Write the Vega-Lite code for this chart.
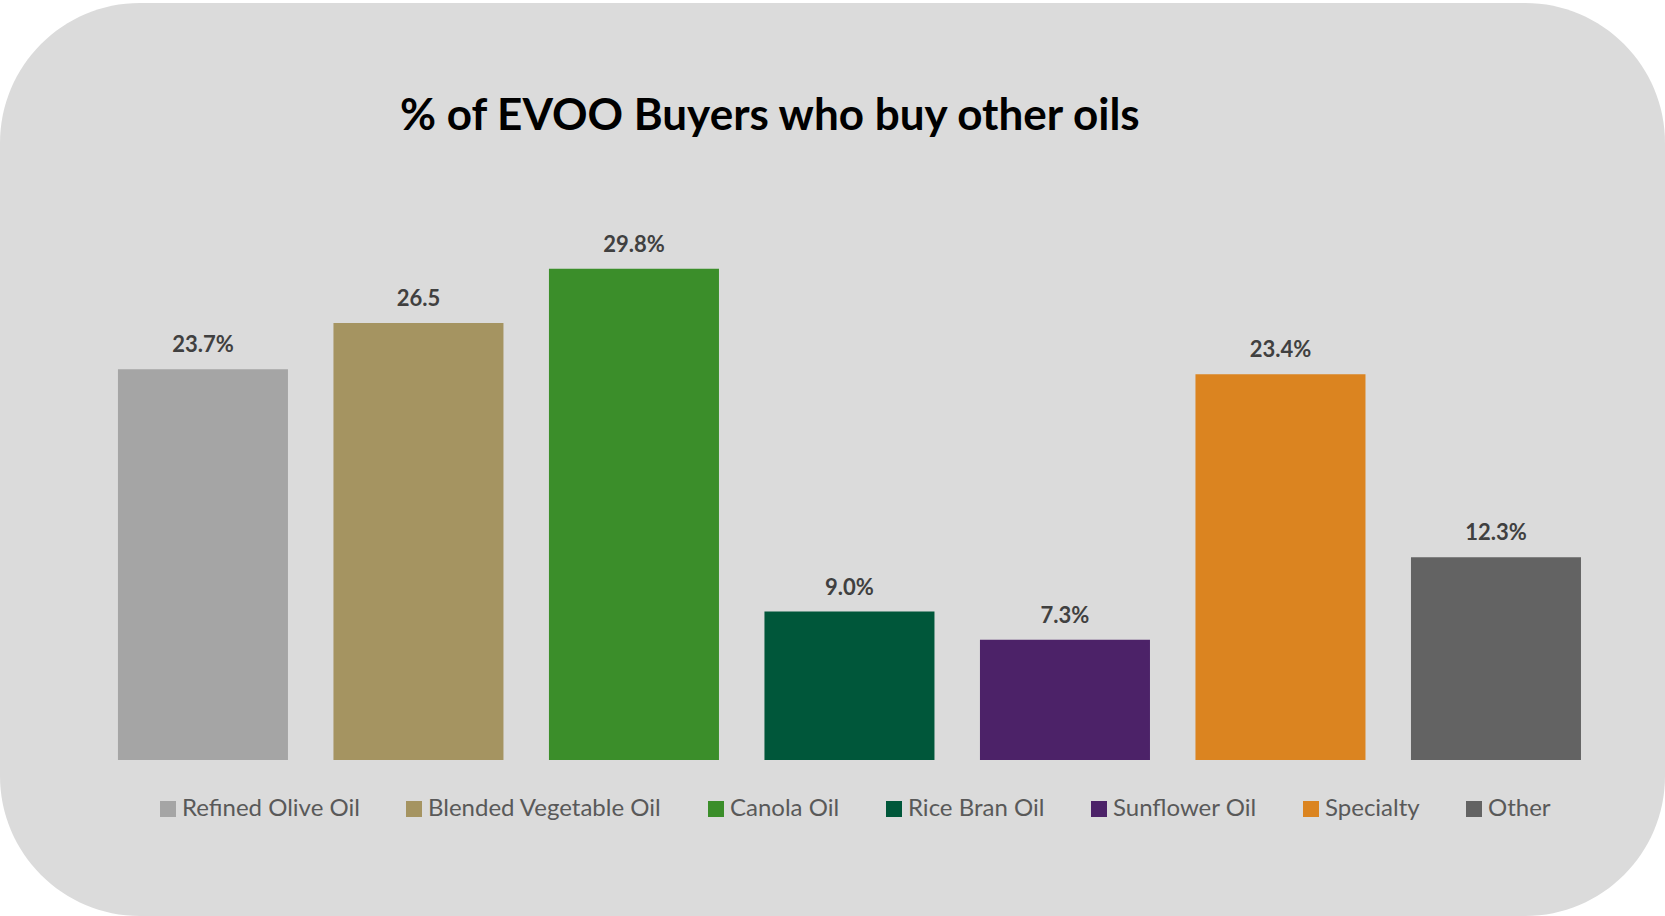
{
  "$schema": "https://vega.github.io/schema/vega-lite/v6.json",
  "width": 1665,
  "height": 913,
  "autosize": {"type": "none"},
  "padding": {"top": 3, "left": 0, "right": 0, "bottom": 0},
  "background": "#ffffff",
  "config": {
    "view": {"fill": "#dbdbdb", "stroke": null, "cornerRadius": 140},
    "font": "Lato"
  },
  "title": {
    "text": "% of EVOO Buyers who buy other oils",
    "anchor": "start",
    "frame": "group",
    "dx": 400,
    "offset": -171,
    "baseline": "alphabetic",
    "font": "Lato",
    "fontSize": 44,
    "fontWeight": "bold",
    "color": "#000000"
  },
  "data": {
    "values": [
      {"oil": "Refined Olive Oil", "pct": 23.7, "label": "23.7%"},
      {"oil": "Blended Vegetable Oil", "pct": 26.5, "label": "26.5"},
      {"oil": "Canola Oil", "pct": 29.8, "label": "29.8%"},
      {"oil": "Rice Bran Oil", "pct": 9.0, "label": "9.0%"},
      {"oil": "Sunflower Oil", "pct": 7.3, "label": "7.3%"},
      {"oil": "Specialty", "pct": 23.4, "label": "23.4%"},
      {"oil": "Other", "pct": 12.3, "label": "12.3%"}
    ]
  },
  "encoding": {
    "x": {
      "field": "oil",
      "type": "nominal",
      "sort": null,
      "axis": null,
      "scale": {"paddingInner": 0.2111, "paddingOuter": 0.4686, "align": 0.584}
    },
    "y": {
      "field": "pct",
      "type": "quantitative",
      "axis": null,
      "scale": {"domain": [-9.46, 45.91], "nice": false, "zero": false}
    }
  },
  "layer": [
    {
      "mark": {"type": "bar"},
      "encoding": {
        "color": {
          "field": "oil",
          "type": "nominal",
          "scale": {
            "domain": ["Refined Olive Oil", "Blended Vegetable Oil", "Canola Oil", "Rice Bran Oil", "Sunflower Oil", "Specialty", "Other"],
            "range": ["#a5a5a5", "#a59461", "#3b8e2a", "#00573a", "#4c2268", "#db8420", "#636363"]
          },
          "legend": {
            "title": null,
            "orient": "none",
            "direction": "horizontal",
            "legendX": 156,
            "legendY": 794,
            "symbolType": "square",
            "symbolSize": 256,
            "symbolStrokeWidth": 0,
            "symbolOpacity": 1,
            "labelFont": "Lato",
            "labelFontSize": 24,
            "labelColor": "#595959",
            "labelOffset": 2,
            "labelLimit": 500,
            "columnPadding": 42,
            "padding": 0
          }
        }
      }
    },
    {
      "mark": {"type": "text", "baseline": "middle", "dy": -24, "font": "Lato", "fontWeight": "bold", "fontSize": 22, "color": "#404040"},
      "encoding": {"text": {"field": "label"}}
    }
  ]
}
